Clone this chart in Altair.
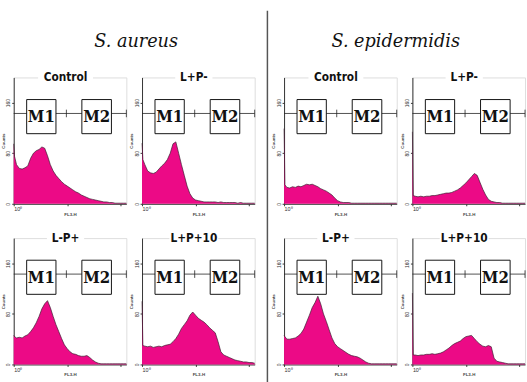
import altair as alt
import pandas as pd
import numpy as np

# ---------------- data ----------------
log_bins = [0.0, 0.03, 0.1, 0.2, 0.3, 0.4, 0.5, 0.6, 0.7, 0.8, 0.9, 1.0,
            1.1, 1.2, 1.3, 1.4, 1.5, 1.6, 1.7, 1.8, 1.9, 2.0,
            2.1, 2.2, 2.3, 2.4, 2.5, 2.6, 2.7, 2.8, 2.9, 3.0,
            3.1, 3.2, 3.3, 3.4, 3.5, 3.6, 3.7, 3.8, 3.9, 4.0]

aureus_control = [95, 75, 62, 56, 55, 57, 60, 72, 80, 84, 86, 90,
                  88, 76, 62, 52, 45, 40, 35, 31, 28, 25,
                  22, 19, 17, 14, 12, 10, 8, 7, 6, 5,
                  4, 3, 3, 2, 2, 1, 1, 1, 1, 1]
aureus_lp_minus = [96, 70, 62, 52, 49, 48, 50, 55, 60, 64, 70, 80,
                   95, 98, 80, 62, 45, 28, 16, 9, 6, 5,
                   4, 3, 3, 3, 3, 3, 2, 3, 2, 2,
                   2, 2, 2, 1, 2, 1, 1, 1, 1, 1]
aureus_l_minus_p = [46, 44, 42, 43, 42, 45, 47, 52, 58, 66, 76, 88,
                    96, 101, 90, 76, 63, 52, 41, 31, 25, 20,
                    17, 16, 14, 13, 13, 14, 11, 7, 4, 2,
                    1, 1, 1, 1, 1, 1, 1, 1, 1, 1]
aureus_lp10 = [100, 30, 29, 28, 29, 27, 28, 29, 28, 30, 31, 32,
               36, 41, 48, 57, 63, 69, 78, 83, 78, 73,
               70, 67, 63, 58, 54, 50, 36, 20, 15, 13,
               11, 9, 7, 6, 5, 4, 4, 3, 3, 2]

epi_control = [119, 30, 26, 25, 27, 26, 28, 27, 29, 31, 30, 31,
               29, 27, 24, 22, 20, 17, 14, 9, 5, 3,
               2, 2, 2, 1, 1, 1, 1, 1, 1, 1,
               1, 1, 1, 1, 1, 1, 1, 1, 1, 1]
epi_lp_minus = [114, 13, 12, 11, 12, 11, 12, 12, 13, 13, 14, 15,
                16, 17, 17, 18, 20, 22, 25, 29, 33, 38,
                43, 48, 45, 34, 23, 14, 7, 4, 3, 2,
                2, 1, 1, 1, 1, 1, 1, 1, 1, 1]
epi_l_minus_p = [46, 44, 40, 40, 41, 42, 45, 49, 56, 67, 78, 90,
                 98, 108, 96, 80, 68, 55, 42, 33, 28, 25,
                 22, 19, 16, 14, 13, 12, 10, 7, 4, 2,
                 1, 1, 1, 1, 1, 1, 1, 1, 1, 1]
epi_lp10 = [113, 15, 15, 14, 15, 15, 16, 16, 17, 16, 17, 18,
            20, 23, 26, 30, 33, 35, 37, 41, 44, 45,
            46, 41, 36, 32, 29, 28, 30, 28, 10, 5,
            4, 3, 2, 1, 1, 1, 1, 1, 1, 1]

panel_titles = ["Control", "L+P-", "L-P+", "L+P+10"]
species = ["S. aureus", "S. epidermidis"]
marker_names = ["M1", "M2"]
marker_box_lo = [0.46, 2.42]
marker_box_hi = [1.50, 3.47]
marker_split = 1.87

# ---------------- style ----------------
W, H = 115, 129
PINK = "#ec0a86"
FRAME = "#333333"
TITLE_FONT = "Liberation Sans Narrow, Arial Narrow, DejaVu Sans Condensed, sans-serif"
BOX_FONT = "DejaVu Serif Condensed, DejaVu Serif, serif"
SPECIES_FONT = "DejaVu Serif"
SUP = "['\u2070','\u00b9','\u00b2','\u00b3','\u2074'][round(datum.value)]"

x_tick_vals = [float(k + np.log10(m)) for k in range(4) for m in range(1, 10)] + [4.0]
y_tick_vals = list(range(0, 201, 10))


def panel(values, title):
    df = pd.DataFrame({"log": log_bins, "count": values})
    xs = alt.Scale(domain=[0, 4], nice=False, zero=False)
    ys = alt.Scale(domain=[0, 200], nice=False, zero=True)
    x_axis = alt.Axis(title="FL3-H", values=x_tick_vals, labelOverlap=False,
                      labelExpr="abs(datum.value - round(datum.value)) < 0.001 ? '10' + " + SUP + " : ''",
                      labelFontSize=5.5, titleFontSize=4.5, labelBound=False,
                      titlePadding=0.5, minExtent=7, maxExtent=7,
                      tickSize=2, labelPadding=1, grid=False, domainColor=FRAME,
                      tickColor=FRAME, labelColor="#333", titleColor="#444")
    y_axis = alt.Axis(title="Counts", values=y_tick_vals, labelOverlap=False,
                      labelExpr="datum.value % 40 == 0 ? '' + datum.value : ''",
                      labelAngle=270, labelAlign="center", labelBaseline="bottom",
                      labelFontSize=5, titleFontSize=4.5, titlePadding=1.5,
                      minExtent=7, maxExtent=7, labelBound=False,
                      tickSize=2, labelPadding=1, grid=False, domainColor=FRAME,
                      tickColor=FRAME, labelColor="#333", titleColor="#444")

    hist = alt.Chart(df).mark_area(
        color=PINK, opacity=1, interpolate="linear",
        line={"color": "#3a2030", "strokeWidth": 0.7}
    ).encode(
        x=alt.X("log:Q", scale=xs, axis=x_axis),
        y=alt.Y("count:Q", scale=ys, axis=y_axis),
    )

    one = pd.DataFrame({"k": [0]})
    mline = alt.Chart(one).mark_rule(color="#222", strokeWidth=0.8).encode(
        x=alt.datum(0), x2=alt.datum(4), y=alt.datum(143))
    ticks = alt.Chart(pd.DataFrame({"t": [marker_split, 4.0]})).mark_rule(
        color="#222", strokeWidth=0.8).encode(
        x=alt.X("t:Q"), y=alt.datum(137), y2=alt.datum(149))

    mdf = pd.DataFrame({"name": marker_names, "lo": marker_box_lo, "hi": marker_box_hi})
    boxes = alt.Chart(mdf).mark_rect(fill="white", stroke="#111", strokeWidth=1).encode(
        x="lo:Q", x2="hi:Q", y=alt.datum(111), y2=alt.datum(165))
    labels = alt.Chart(mdf).transform_calculate(mid="(datum.lo + datum.hi) / 2").mark_text(
        font=BOX_FONT, fontSize=17, fontWeight="bold", color="#111",
        baseline="middle", dy=1).encode(
        x="mid:Q", y=alt.datum(138), text="name:N")

    cx = W * 0.46
    gap = 6 * len(title) + 14
    tbg = alt.Chart(one).mark_rect(fill="white").encode(
        x=alt.value(cx - gap / 2), x2=alt.value(cx + gap / 2),
        y=alt.value(-2), y2=alt.value(2))
    ttext = alt.Chart(one).mark_text(
        text=title, font=TITLE_FONT, fontSize=12, fontWeight="bold",
        color="#111", baseline="middle").encode(x=alt.value(cx), y=alt.value(0))

    return alt.layer(hist, mline, ticks, boxes, labels, tbg, ttext).properties(
        width=W, height=H)


def group(name, series, shift):
    top = alt.hconcat(panel(series[0], panel_titles[0]), panel(series[1], panel_titles[1]),
                      spacing=0)
    bot = alt.hconcat(panel(series[2], panel_titles[2]), panel(series[3], panel_titles[3]),
                      spacing=0)
    return alt.vconcat(top, bot, spacing=15,
                       title=alt.TitleParams(["", name], font=SPECIES_FONT, fontStyle="italic",
                                             fontWeight="normal", fontSize=18, lineHeight=22,
                                             color="#111", anchor="middle", offset=21,
                                             dx=shift))


left = group(species[0], [aureus_control, aureus_lp_minus, aureus_l_minus_p, aureus_lp10], 8)
right = group(species[1], [epi_control, epi_lp_minus, epi_l_minus_p, epi_lp10], -3)

divider = alt.Chart(pd.DataFrame({"d": [0]})).mark_rule(
    color="#555", strokeWidth=1.5).encode(
    x=alt.value(10), y=alt.value(-68), y2=alt.value(312)).properties(
    width=12, height=10, view=alt.ViewBackground(stroke="transparent"))

chart = alt.hconcat(left, divider, right, spacing=0).properties(
    padding={"left": 0, "top": 5, "right": 0, "bottom": 0}
).configure_view(stroke=FRAME, strokeWidth=1).configure(background="white")

chart.save("out.html", embed_options={"renderer": "svg", "actions": False})
